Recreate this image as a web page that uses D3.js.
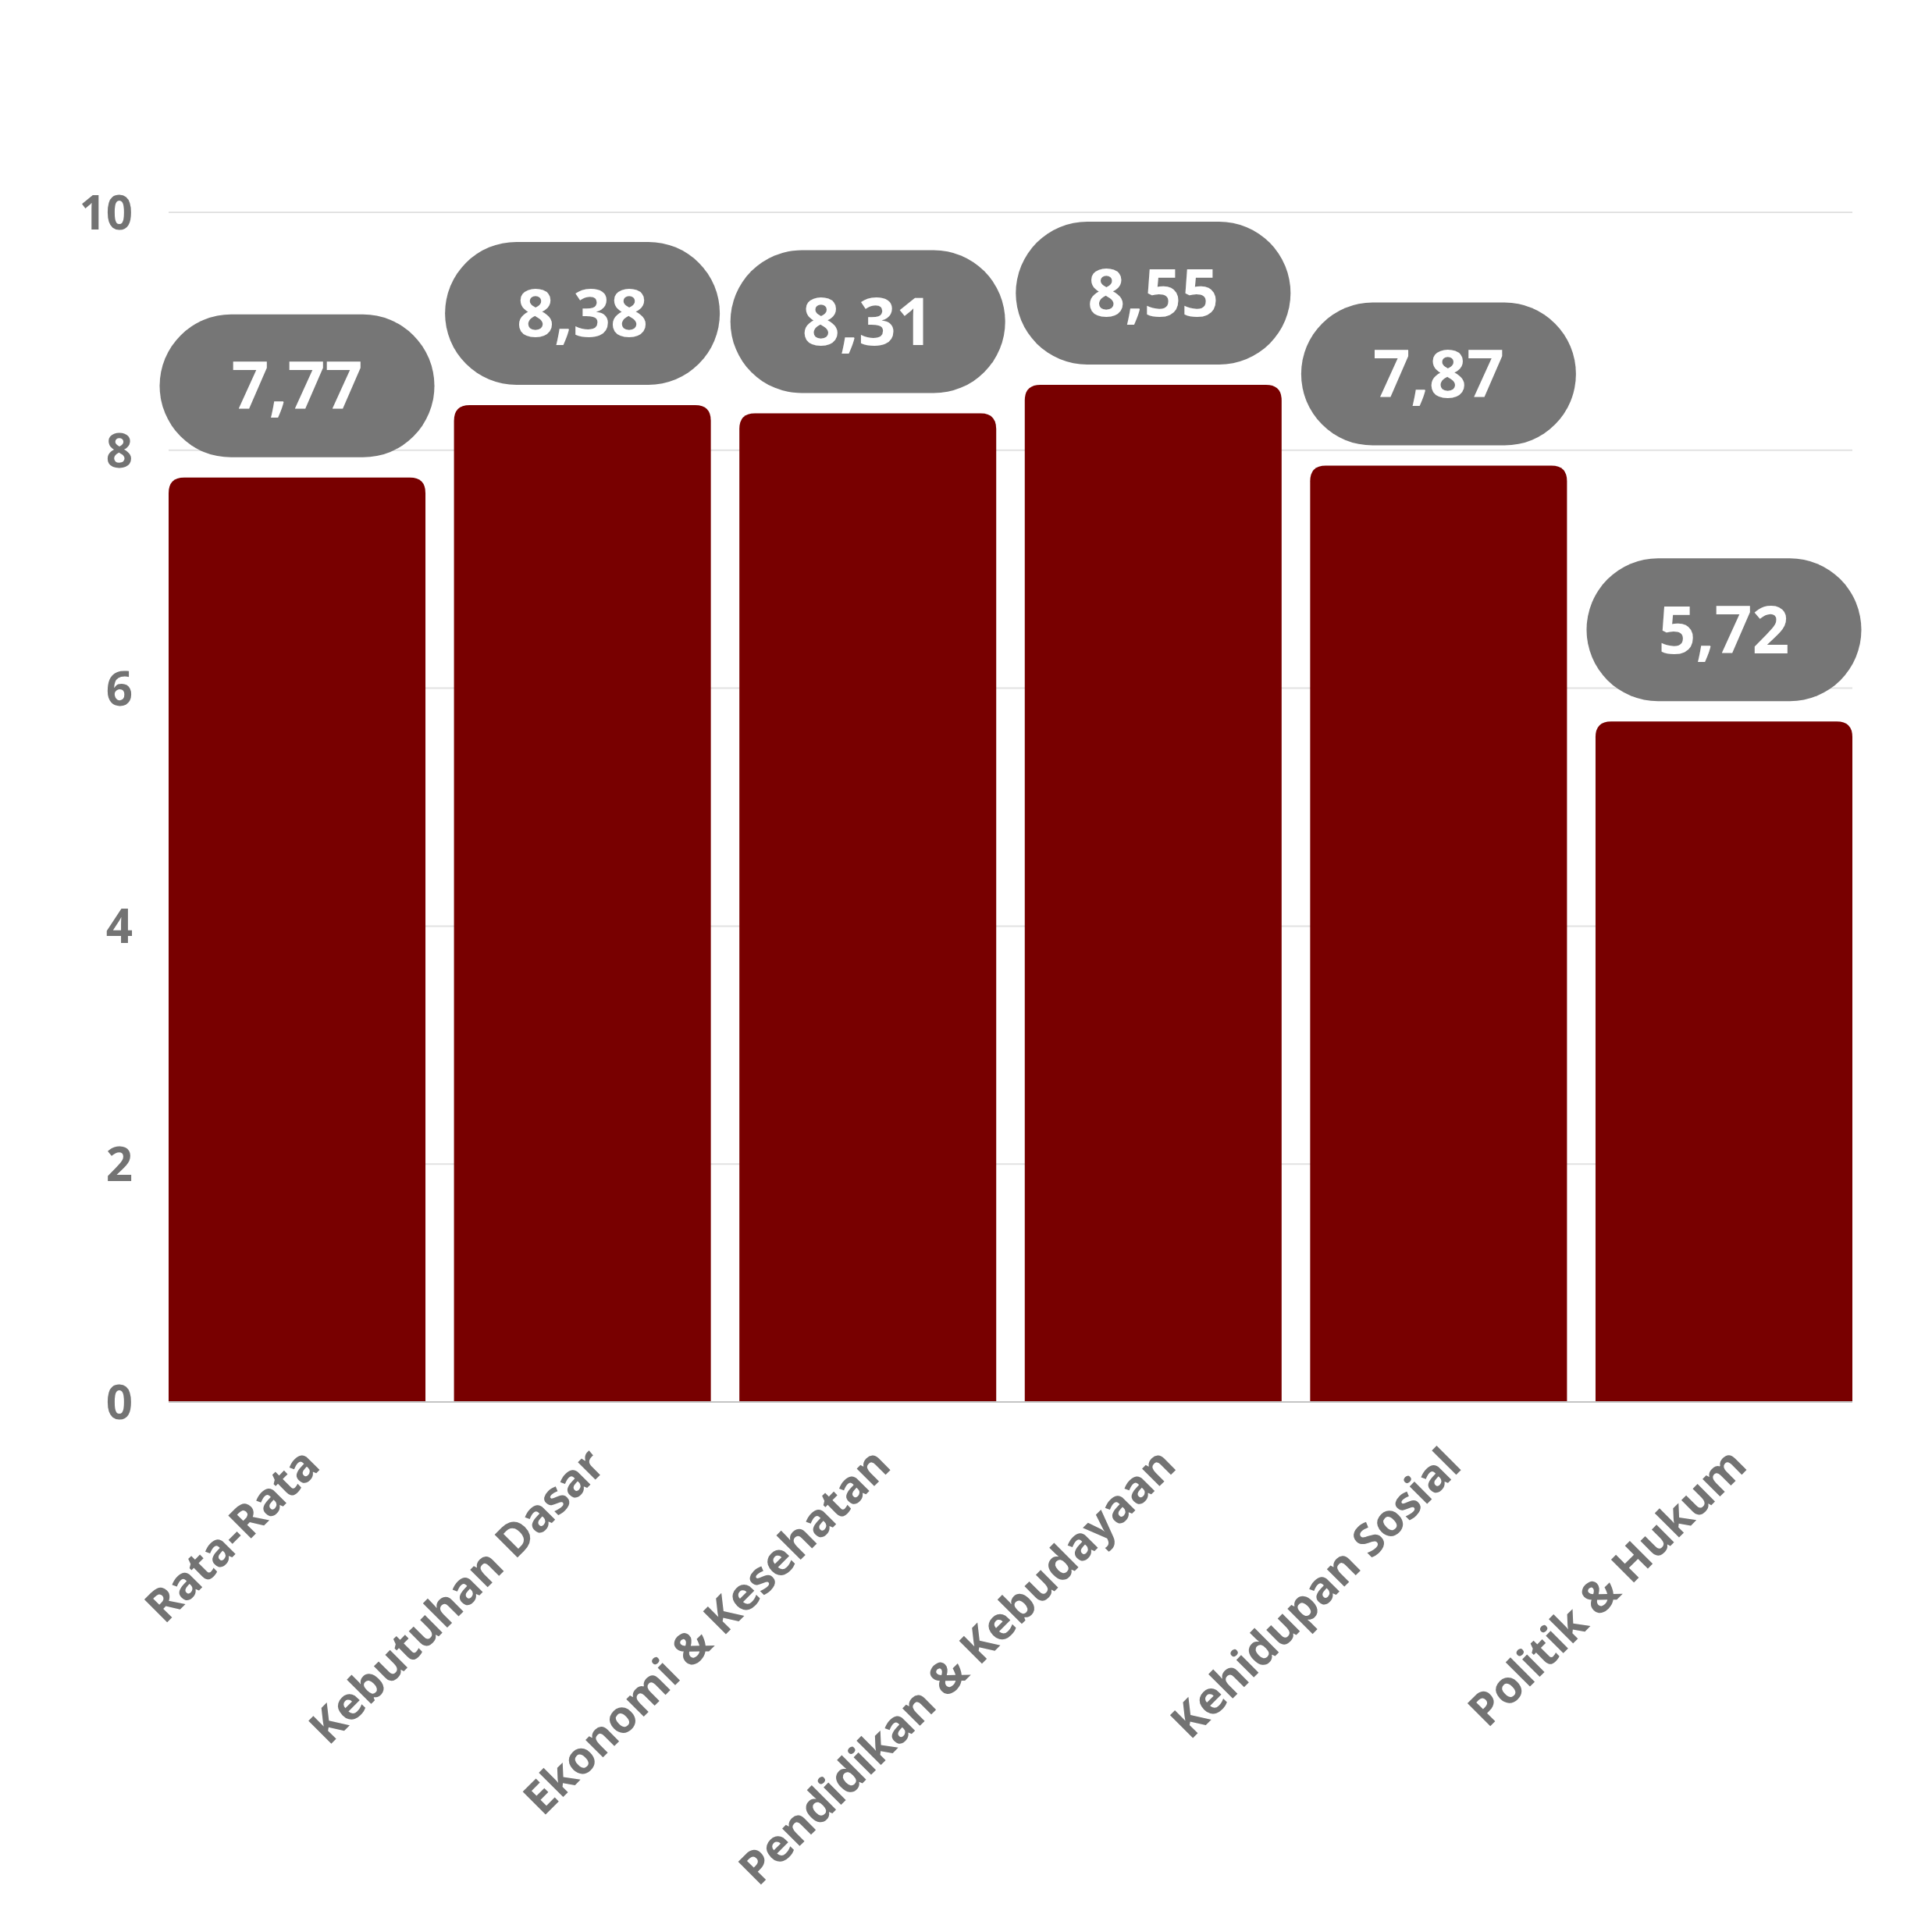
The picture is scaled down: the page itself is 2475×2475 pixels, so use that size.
<!DOCTYPE html>
<html>
<head>
<meta charset="utf-8">
<script src="https://cdn.jsdelivr.net/npm/d3@7/dist/d3.min.js"></script>
<style>
  html, body { margin: 0; padding: 0; background: #ffffff; }
  svg { display: block; }
</style>
</head>
<body>
<script>
const categories = ["Rata-Rata", "Kebutuhan Dasar", "Ekonomi & Kesehatan", "Pendidikan & Kebudayaan", "Kehidupan Sosial", "Politik & Hukum"];
const values = [7.77, 8.38, 8.31, 8.55, 7.87, 5.72];
const valueLabels = ["7,77", "8,38", "8,31", "8,55", "7,87", "5,72"];
const yTicks = [0, 2, 4, 6, 8, 10];

const W = 2475, H = 2475;
const margin = { left: 216, right: 2475 - 2373, top: 272, bottom: 2475 - 1796 };
const barColor = "#780000";
const pillColor = "#767676";
const textGray = "#737373";

const svg = d3.select("body").append("svg")
  .attr("width", W).attr("height", H)
  .attr("viewBox", `0 0 ${W} ${H}`);

const x = d3.scaleBand()
  .domain(categories)
  .range([margin.left, W - margin.right])
  .paddingInner(0.1)
  .paddingOuter(0);

const y = d3.scaleLinear()
  .domain([0, 10])
  .range([H - margin.bottom, margin.top]);

// gridlines
svg.append("g")
  .selectAll("line")
  .data(yTicks.filter(d => d !== 0))
  .join("line")
  .attr("x1", margin.left)
  .attr("x2", W - margin.right)
  .attr("y1", d => y(d))
  .attr("y2", d => y(d))
  .attr("stroke", "#e2e2e2")
  .attr("stroke-width", 2);

// y axis
const yAxis = svg.append("g")
  .attr("transform", `translate(${margin.left},0)`)
  .call(d3.axisLeft(y).tickValues(yTicks).tickSize(0).tickPadding(46).tickFormat(d3.format("d")));
yAxis.select(".domain").remove();
yAxis.selectAll("text")
  .attr("fill", textGray)
  .attr("font-family", "'Open Sans', sans-serif")
  .attr("font-weight", 700)
  .attr("font-size", 60)
  .attr("dy", "0.357em");

// bars with rounded top corners
const r = 20;
function barPath(d, i) {
  const x0 = x(categories[i]);
  const x1 = x0 + x.bandwidth();
  const yt = y(d);
  const yb = y(0);
  return `M${x0},${yb} L${x0},${yt + r} Q${x0},${yt} ${x0 + r},${yt} L${x1 - r},${yt} Q${x1},${yt} ${x1},${yt + r} L${x1},${yb} Z`;
}
svg.append("g")
  .selectAll("path")
  .data(values)
  .join("path")
  .attr("d", (d, i) => barPath(d, i))
  .attr("fill", barColor);

// baseline
svg.append("line")
  .attr("x1", margin.left).attr("x2", W - margin.right)
  .attr("y1", y(0)).attr("y2", y(0))
  .attr("stroke", "#c4c4c4").attr("stroke-width", 2);

// x axis labels
const xAxis = svg.append("g")
  .attr("transform", `translate(0,${y(0)})`)
  .call(d3.axisBottom(x).tickSize(0));
xAxis.select(".domain").remove();
xAxis.selectAll("text")
  .attr("fill", textGray)
  .attr("font-family", "'Open Sans', sans-serif")
  .attr("font-weight", 700)
  .attr("font-size", 58)
  .attr("text-anchor", "end")
  .attr("x", 0).attr("y", 0).attr("dy", 0)
  .attr("transform", "translate(32,84) rotate(-45)");

// value pills
const pillW = 352, pillH = 183, pillGap = 26;
const pills = svg.append("g")
  .selectAll("g")
  .data(values)
  .join("g")
  .attr("transform", (d, i) => `translate(${x(categories[i]) + x.bandwidth() / 2},${y(d) - pillGap - pillH / 2})`);
pills.append("rect")
  .attr("x", -pillW / 2).attr("y", -pillH / 2)
  .attr("width", pillW).attr("height", pillH)
  .attr("rx", pillH / 2).attr("ry", pillH / 2)
  .attr("fill", pillColor);
pills.append("text")
  .attr("text-anchor", "middle")
  .attr("dy", "0.357em")
  .attr("fill", "#ffffff")
  .attr("font-family", "'Open Sans', sans-serif")
  .attr("font-weight", 700)
  .attr("font-size", 84)
  .text((d, i) => valueLabels[i]);
</script>
</body>
</html>
